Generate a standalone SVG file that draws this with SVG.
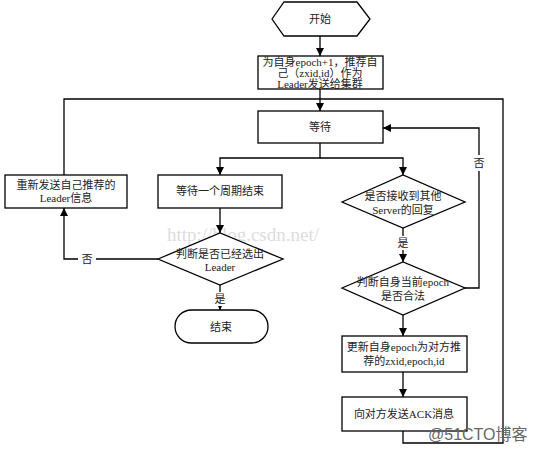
<svg xmlns="http://www.w3.org/2000/svg" width="533" height="451" viewBox="0 0 533 451">
<defs>
<marker id="arr" viewBox="0 0 8 8" refX="8" refY="4" markerWidth="8" markerHeight="8" markerUnits="userSpaceOnUse" orient="auto">
<path d="M0,0 L8,4 L0,8 Z" fill="#000"/>
</marker>
</defs>
<style>
.s{fill:#fff;stroke:#000;stroke-width:1.3}
.c{fill:none;stroke:#000;stroke-width:1.3}
.t{font-family:"Liberation Serif","Noto Sans CJK SC",serif;font-size:11px;fill:#222;text-anchor:middle;dominant-baseline:central}
.l{font-family:"Liberation Serif","Noto Sans CJK SC",serif;font-size:11px;fill:#222;text-anchor:middle;dominant-baseline:central}
.wm{font-family:"Liberation Serif",serif;font-size:19px;fill:#ddd;}
.wm2{font-family:"Liberation Sans","Noto Sans CJK SC",sans-serif;font-size:16px;fill:#666;}
</style>
<rect width="533" height="451" fill="#fff"/>
<text class="wm" x="167" y="241">http://blog.csdn.net/</text>
<g id="connectors">
<path class="c" d="M320,36 V56" marker-end="url(#arr)"/>
<path class="c" d="M320,89 V111" marker-end="url(#arr)"/>
<path class="c" d="M64,175 V99 H503 V443 H403 V431"/>
<path class="c" d="M320,143 V158 H220 V175" marker-end="url(#arr)"/>
<path class="c" d="M320,158 H403 V175" marker-end="url(#arr)"/>
<path class="c" d="M220,208 V233" marker-end="url(#arr)"/>
<path class="c" d="M158,259 H64 V208" marker-end="url(#arr)"/>
<path class="c" d="M220,285 V310" marker-end="url(#arr)"/>
<path class="c" d="M403,228 V262" marker-end="url(#arr)"/>
<path class="c" d="M465,288 H479 V128 H383" marker-end="url(#arr)"/>
<path class="c" d="M403,315 V336" marker-end="url(#arr)"/>
<path class="c" d="M403,372 V397" marker-end="url(#arr)"/>
<rect x="78" y="252" width="18" height="14" fill="#fff"/>
<text class="l" x="87" y="259">否</text>
<rect x="213" y="292" width="14" height="14" fill="#fff"/>
<text class="l" x="220" y="299">是</text>
<rect x="396" y="236" width="14" height="14" fill="#fff"/>
<text class="l" x="403" y="243">是</text>
<rect x="472" y="155" width="14" height="16" fill="#fff"/>
<text class="l" x="479" y="163">否</text>
</g>
<g id="start">
<polygon class="s" points="272,19 284,2 357,2 370,19 357,36 284,36"/>
<text class="t" x="320" y="19">开始</text>
</g>
<g id="broadcast">
<rect class="s" x="258" y="56" width="125" height="33"/>
<text class="t" x="320" y="62" font-size="10.5">为自身epoch+1，推荐自</text>
<text class="t" x="320" y="73" font-size="10.5">己（zxid,id）作为</text>
<text class="t" x="320" y="84" font-size="10.5">Leader发送给集群</text>
</g>
<g id="wait">
<rect class="s" x="258" y="111" width="125" height="32"/>
<text class="t" x="320" y="127">等待</text>
</g>
<g id="resend">
<rect class="s" x="5" y="175" width="122" height="33"/>
<text class="t" x="66" y="185">重新发送自己推荐的</text>
<text class="t" x="66" y="198">Leader信息</text>
</g>
<g id="waitperiod">
<rect class="s" x="158" y="175" width="124" height="33"/>
<text class="t" x="220" y="191">等待一个周期结束</text>
</g>
<g id="elected">
<polygon class="s" points="158,259 220,233 283,259 220,285"/>
<text class="t" x="220" y="254">判断是否已经选出</text>
<text class="t" x="220" y="267">Leader</text>
</g>
<g id="end">
<rect class="s" x="175" y="310" width="93" height="33" rx="16.5"/>
<text class="t" x="221" y="327">结束</text>
</g>
<g id="received">
<polygon class="s" points="342,202 403,175 465,202 403,228"/>
<text class="t" x="403" y="196">是否接收到其他</text>
<text class="t" x="403" y="210">Server的回复</text>
</g>
<g id="legal">
<polygon class="s" points="342,288 403,262 465,288 403,315"/>
<text class="t" x="403" y="282">判断自身当前epoch</text>
<text class="t" x="403" y="296">是否合法</text>
</g>
<g id="update">
<rect class="s" x="342" y="336" width="125" height="36"/>
<text class="t" x="404" y="347">更新自身epoch为对方推</text>
<text class="t" x="404" y="361">荐的zxid,epoch,id</text>
</g>
<g id="ack">
<rect class="s" x="342" y="397" width="125" height="34"/>
<text class="t" x="404" y="414">向对方发送ACK消息</text>
</g>
<text class="wm2" x="428" y="440">@51CTO博客</text>
</svg>
